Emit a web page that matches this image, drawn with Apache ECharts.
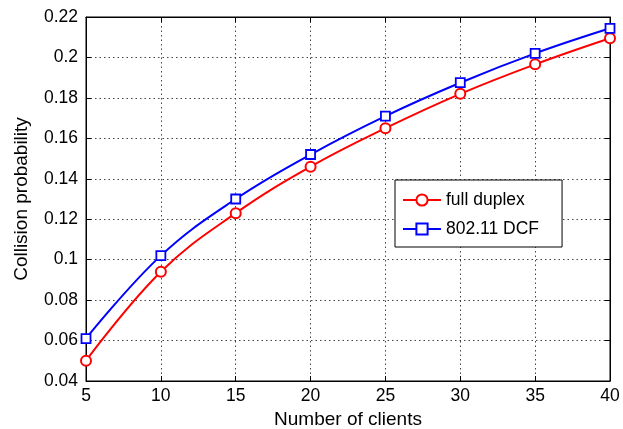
<!DOCTYPE html>
<html>
<head>
<meta charset="utf-8">
<script src="https://cdn.jsdelivr.net/npm/echarts@6/dist/echarts.min.js"></script>
<style>
  html, body { margin: 0; padding: 0; background: #fff; }
  #chart { width: 623px; height: 429px; }
</style>
</head>
<body>
<div id="chart"></div>
<script>
// Number of clients on the x axis
const clients = [5, 10, 15, 20, 25, 30, 35, 40];
// Collision probability for each scheme
const fullDuplex = [0.050, 0.094, 0.123, 0.146, 0.165, 0.182, 0.1966, 0.2095];
const dcf80211 = [0.061, 0.102, 0.130, 0.152, 0.171, 0.1875, 0.202, 0.2144];

const font = 'Liberation Sans, Arial, sans-serif';
const chart = echarts.init(document.getElementById('chart'));

const pairs = arr => clients.map((c, i) => [c, arr[i]]);
const dotted = { color: '#444', width: 1, type: [1.5, 3] };

chart.setOption({
  animation: false,
  backgroundColor: '#fff',
  grid: { left: 86, top: 17, right: 13, bottom: 48, containLabel: false, outerBoundsMode: 'none',
          show: true, borderColor: '#000', borderWidth: 1 },
  xAxis: [{
    type: 'value', min: 5, max: 40, interval: 5,
    name: 'Number of clients', nameLocation: 'middle', nameGap: 26,
    nameTextStyle: { fontFamily: font, fontSize: 19, color: '#000' },
    axisLine: { lineStyle: { color: '#000', width: 1 } },
    axisTick: { inside: true, length: 5, lineStyle: { color: '#000' } },
    axisLabel: { fontFamily: font, fontSize: 17.5, color: '#000', margin: 6 },
    splitLine: { show: true, lineStyle: dotted }
  }, {
    type: 'value', position: 'top', min: 5, max: 40, interval: 5,
    axisLine: { lineStyle: { color: '#000' } },
    axisTick: { inside: true, length: 5, lineStyle: { color: '#000' } },
    axisLabel: { show: false }, splitLine: { show: false }
  }],
  yAxis: [{
    type: 'value', min: 0.04, max: 0.22, interval: 0.02,
    name: 'Collision probability', nameLocation: 'middle', nameGap: 55,
    nameTextStyle: { fontFamily: font, fontSize: 19, color: '#000' },
    axisLine: { show: true, lineStyle: { color: '#000', width: 1 } },
    axisTick: { show: true, inside: true, length: 5, lineStyle: { color: '#000' } },
    axisLabel: { fontFamily: font, fontSize: 17.5, color: '#000', margin: 8,
      formatter: v => String(Math.round(v * 100) / 100) },
    splitLine: { show: true, lineStyle: dotted }
  }, {
    type: 'value', position: 'right', min: 0.04, max: 0.22, interval: 0.02,
    axisLine: { show: true, lineStyle: { color: '#000' } },
    axisTick: { show: true, inside: true, length: 5, lineStyle: { color: '#000' } },
    axisLabel: { show: false }, splitLine: { show: false }
  }],
  legend: {
    orient: 'vertical', left: 395, top: 180,
    backgroundColor: '#fff', borderColor: '#000', borderWidth: 1,
    padding: [11, 23, 9, 7], itemGap: 11, itemWidth: 38, itemHeight: 14,
    textStyle: { fontFamily: font, fontSize: 17.5, color: '#000' },
    data: ['full duplex', '802.11 DCF']
  },
  series: [{
    name: 'full duplex', type: 'line', smooth: 0.4,
    data: pairs(fullDuplex),
    symbol: 'emptyCircle', symbolSize: 10,
    lineStyle: { color: '#ff0000', width: 2 },
    itemStyle: { color: '#ff0000', borderColor: '#ff0000', borderWidth: 1.8 }
  }, {
    name: '802.11 DCF', type: 'line', smooth: 0.4,
    data: pairs(dcf80211),
    symbol: 'rect', symbolSize: 9,
    lineStyle: { color: '#0000ff', width: 2 },
    itemStyle: { color: '#fff', borderColor: '#0000ff', borderWidth: 1.8 }
  }]
});
</script>
</body>
</html>
